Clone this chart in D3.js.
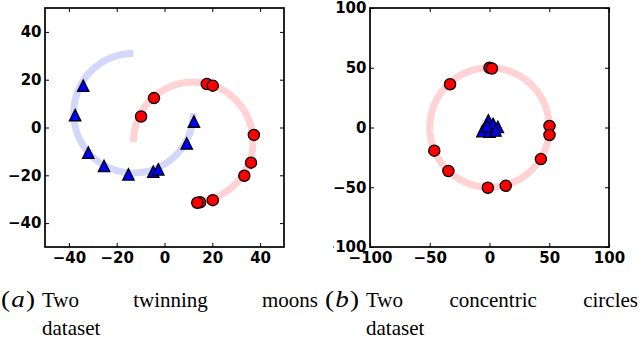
<!DOCTYPE html>
<html><head><meta charset="utf-8">
<script src="https://cdn.jsdelivr.net/npm/d3@7"></script>
<style>
html,body{margin:0;padding:0;background:#fff;}
svg{display:block;}
.tick text{font-family:"DejaVu Sans",sans-serif;font-weight:bold;font-size:15px;fill:#000;}
.cap{font-family:"Liberation Serif",serif;font-size:21px;fill:#000;}
.lab{font-family:"Liberation Serif",serif;font-size:23px;fill:#000;}
</style>
</head><body>
<svg id="chart" width="640" height="351"></svg>
<script>
// ---------- data ----------
const moonTicks = [-40, -20, 0, 20, 40];
const circleTicks = [-100, -50, 0, 50, 100];

// moons dataset: class 1 (blue triangles)
const moonBlueX = [-34, -37.4, -31.9, -25.3, -15.1, -4.7, -2.6, 9.3, 12.3];
const moonBlueY = [17.5, 5.2, -10.5, -16.1, -19.6, -18.5, -17.5, -6.7, 2.5];
// moons dataset: class 2 (red circles)
const moonRedX = [-9.8, -4.4, 17.7, 20.2, 37.4, 36.2, 33.4, 20.2, 14.9, 13.7];
const moonRedY = [4.6, 12.3, 18.2, 17.5, -3.1, -14.7, -20.2, -30.4, -31.3, -31.5];
// underlying moon curves: centre x, centre y, radius, start/end angle (deg)
const moonCurveCx = [-13, 12];
const moonCurveCy = [6, -6];
const moonCurveR = [25, 25];
const moonCurveA0 = [90, -90];
const moonCurveA1 = [360, 180];

// circles dataset: inner (blue triangles)
const circBlueX = [-1, 3, 7, -6, 0, 5, -2];
const circBlueY = [6, 3, 0.5, -3, -3.5, -2.5, 1];
// outer (red circles)
const circRedX = [0, 2, -33, 50.2, 50.2, 43, 13.6, -1.4, -34.4, -46.2];
const circRedY = [50, 49.4, 36.2, 1.3, -6.3, -26.4, -48.8, -50.4, -36.4, -19.4];
// underlying circle radii
const circleRadii = [5, 50];

const captionA = ["(a)", "Two", "twinning", "moons"];
const captionB = ["(b)", "Two", "concentric", "circles"];
const captionLine2 = "dataset";

// ---------- drawing ----------
const svg = d3.select("#chart");
const lightBlue = "#d3d8fb", lightRed = "#ffd3d3";

function panel(opts) {
  const g = svg.append("g");
  if (opts.clipX !== undefined) {
    const id = "clip" + Math.round(opts.clipX);
    svg.append("clipPath").attr("id", id).append("rect")
      .attr("x", opts.clipX).attr("y", 0).attr("width", 640).attr("height", 351);
    g.attr("clip-path", `url(#${id})`);
  }
  const x = d3.scaleLinear().domain(opts.dom).range([opts.x0, opts.x1]);
  const y = d3.scaleLinear().domain(opts.dom).range([opts.y1, opts.y0]);
  const plot = g.append("g");
  // background curves
  opts.curves.forEach(c => {
    const steps = 200;
    const pts = d3.range(steps + 1).map(i => {
      const a = (c.a0 + (c.a1 - c.a0) * i / steps) * Math.PI / 180;
      return [c.cx + c.r * Math.cos(a), c.cy + c.r * Math.sin(a)];
    });
    plot.append("path").datum(pts)
      .attr("d", d3.line().x(d => x(d[0])).y(d => y(d[1])))
      .attr("fill", "none").attr("stroke", c.color).attr("stroke-width", 7);
  });
  // red circles
  plot.selectAll("circle.r").data(opts.redX.map((v, i) => [v, opts.redY[i]])).join("circle")
    .attr("cx", d => x(d[0])).attr("cy", d => y(d[1])).attr("r", 5.6)
    .attr("fill", "#ff0000").attr("stroke", "#000").attr("stroke-width", 1.3);
  // blue triangles
  const s = 5.7;
  plot.selectAll("path.t").data(opts.blueX.map((v, i) => [v, opts.blueY[i]])).join("path")
    .attr("transform", d => `translate(${x(d[0])},${y(d[1])})`)
    .attr("d", `M0,${-s}L${s},${s}L${-s},${s}Z`)
    .attr("fill", "#0000ff").attr("stroke", "#000").attr("stroke-width", 1.3)
    .attr("stroke-linejoin", "miter");
  // axes
  const fmt = d3.format("d");
  const ax = (gen, tx, ty, labels) => {
    const a = g.append("g").attr("transform", `translate(${tx},${ty})`)
      .call(gen.tickValues(opts.ticks).tickSize(-4).tickPadding(labels ? 5 : 0)
        .tickFormat(labels ? fmt : ""));
    a.select(".domain").remove();
    a.selectAll(".tick line").attr("stroke", "#000").attr("stroke-width", 1);
    return a;
  };
  ax(d3.axisBottom(x), 0, opts.y1, true);
  ax(d3.axisTop(x), 0, opts.y0, false);
  ax(d3.axisLeft(y), opts.x0, 0, true).selectAll(".tick text").attr("dx", "0.1em");
  ax(d3.axisRight(y), opts.x1, 0, false);
  g.append("rect").attr("x", opts.x0).attr("y", opts.y0)
    .attr("width", opts.x1 - opts.x0).attr("height", opts.y1 - opts.y0)
    .attr("fill", "none").attr("stroke", "#000").attr("stroke-width", 1.7);
}

panel({
  dom: [-50, 50], x0: 45, x1: 284, y0: 8, y1: 247, ticks: moonTicks,
  blueX: moonBlueX, blueY: moonBlueY, redX: moonRedX, redY: moonRedY,
  curves: moonCurveCx.map((cx, i) => ({cx, cy: moonCurveCy[i], r: moonCurveR[i],
    a0: moonCurveA0[i], a1: moonCurveA1[i], color: i === 0 ? lightBlue : lightRed}))
});
panel({
  dom: [-100, 100], x0: 370, x1: 609, y0: 8, y1: 247, ticks: circleTicks, clipX: 333,
  blueX: circBlueX, blueY: circBlueY, redX: circRedX, redY: circRedY,
  curves: circleRadii.map((r, i) => ({cx: 0, cy: 0, r, a0: 0, a1: 360,
    color: i === 0 ? lightBlue : lightRed}))
});

// captions: label, then justified first line, then "dataset" with hanging indent
function caption(words, xl, xLabelEnd, x0, x1, y1, y2) {
  const lab = svg.append("text").attr("class", "lab").attr("x", xl).attr("y", y1)
    .attr("textLength", xLabelEnd - xl).attr("lengthAdjust", "spacingAndGlyphs");
  lab.append("tspan").text("(");
  lab.append("tspan").attr("font-style", "italic").attr("dx", 1).text(words[0].slice(1, -1));
  lab.append("tspan").attr("dx", 1).text(")");
  const rest = words.slice(1);
  const texts = rest.map(w => svg.append("text").attr("class", "cap").attr("y", y1).text(w));
  const widths = texts.map(t => t.node().getComputedTextLength());
  const gap = (x1 - x0 - d3.sum(widths)) / (rest.length - 1);
  let cx = x0;
  texts.forEach((t, i) => { t.attr("x", cx); cx += widths[i] + gap; });
  svg.append("text").attr("class", "cap").attr("x", x0).attr("y", y2).text(captionLine2);
}
caption(captionA, 1, 35, 42, 318, 307, 335);
caption(captionB, 325, 359, 366, 638, 307, 335);
</script>
</body></html>
